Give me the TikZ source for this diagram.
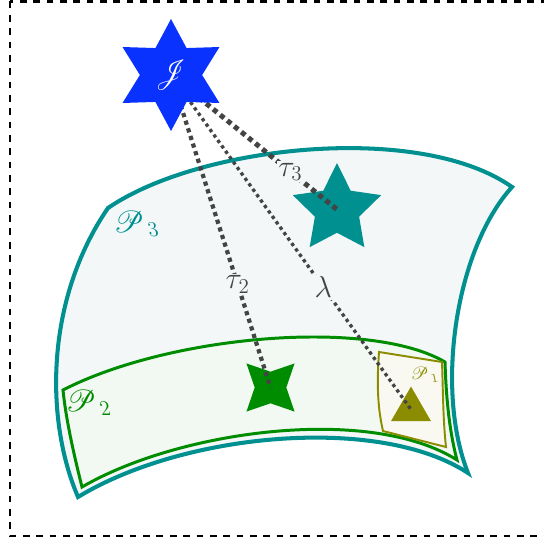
\documentclass[tikz,border=0pt]{standalone}
\usepackage{amsmath}
\IfFileExists{calrsfs.sty}{\usepackage{calrsfs}}{}
\usepackage{tikz}
\usetikzlibrary{shapes.geometric}
\usepackage{xcolor}
\definecolor{regionteal}{HTML}{00908F}
\definecolor{regiongreen}{HTML}{008C00}
\definecolor{regionolive}{HTML}{8C8C00}
\definecolor{sourceblue}{HTML}{0A32FF}
\definecolor{pathgray}{HTML}{444444}
\definecolor{regionice}{HTML}{F3F7F8}
\tikzset{
  framebox/.style={
    draw=black,
    line width=1.7pt,
    dash pattern=on 3.8pt off 3.8pt
  },
  regionthree/.style={
    draw=regionteal,
    fill=regionice,
    line width=2.3pt
  },
  regiontwo/.style={
    draw=regiongreen,
    fill=regiongreen!5,
    line width=1.7pt
  },
  regionone/.style={
    draw=regionolive,
    fill=regionolive!5,
    line width=1.1pt
  },
  sourcestar/.style={
    star,
    star points=6,
    star point ratio=1.8,
    fill=sourceblue,
    minimum size=2.24cm,
    inner sep=0pt
  },
  sourcelabel/.style={
    inner sep=0pt,
    xslant=-0.22,
    text=white,
    font=\fontsize{19pt}{22pt}\selectfont
  },
  tealstar/.style={
    star,
    star points=5,
    star point ratio=2,
    fill=regionteal,
    minimum size=1.86cm,
    inner sep=0pt
  },
  greenstar/.style={
    star,
    star points=4,
    star point ratio=2.15,
    shape border rotate=45,
    fill=regiongreen,
    minimum size=1.36cm,
    inner sep=0pt
  },
  olivetri/.style={
    regular polygon,
    regular polygon sides=3,
    fill=regionolive,
    minimum size=0.92cm,
    inner sep=0pt
  },
  pathtau3/.style={
    draw=pathgray,
    line width=2.85pt,
    dash pattern=on 2.85pt off 2.3pt
  },
  pathtau2/.style={
    draw=pathgray,
    line width=2.4pt,
    dash pattern=on 2.4pt off 2.15pt
  },
  pathlam/.style={
    draw=pathgray,
    line width=1.9pt,
    dash pattern=on 1.9pt off 1.9pt
  },
  pathlabel/.style={
    fill=regionice,
    inner sep=1pt,
    text=pathgray,
    font=\LARGE
  },
  regionlabel/.style={
    inner sep=0pt,
    xslant=-0.22,
    font=\LARGE
  }
}

\begin{document}
\begin{tikzpicture}[x=0.02cm, y=-0.02cm]
\useasboundingbox (0,0) rectangle (544,544);
\draw[framebox] (10,1.5) rectangle (552,536);
\path[regionthree] (108,208) .. controls (200,145) and (420,122) .. (512,187)
  .. controls (455,250) and (435,390) .. (468,473)
  .. controls (380,415) and (185,432) .. (78,497)
  .. controls (45,420) and (45,300) .. (108,208) -- cycle;
\path[regiontwo] (63,390) .. controls (170,335) and (370,318) .. (445,362)
  .. controls (446,395) and (449,430) .. (457,460)
  .. controls (370,405) and (180,430) .. (82,487)
  .. controls (74,455) and (66,420) .. (63,390) -- cycle;
\path[regionone] (379,352) -- (442,362)
  .. controls (443,390) and (443,420) .. (446,447)
  -- (383,431)
  .. controls (377,405) and (377,380) .. (379,352) -- cycle;
\node[regionlabel, text=regionteal] (p3) at (135,224) {$\mathcal{P}_{\,3}$};
\node[regionlabel, text=regiongreen] (p2) at (87,403) {$\mathcal{P}_{\,2}$};
\node[regionlabel, text=regionolive, font=\normalsize] (p1) at (424,375) {$\mathcal{P}_{\,1}$};
\node[tealstar] (s3) at (337,209.5) {};
\node[greenstar] (s2) at (270.5,387.5) {};
\node[olivetri] (s1) at (411,409.5) {};
\coordinate (jc) at (171,75);
\draw[pathtau3] (jc) -- node[pathlabel, pos=0.72] {$\tau_3$} (s3.center);
\draw[pathtau2] (jc) -- node[pathlabel, pos=0.67] {$\tau_2$} (s2.center);
\draw[pathlam] (jc) -- node[pathlabel, pos=0.635] {$\lambda$} (s1.center);
\node[sourcestar] (J) at (jc) {};
\node[sourcelabel] (jlabel) at (J.center) {$\mathcal{J}$};
\end{tikzpicture}
\end{document}
